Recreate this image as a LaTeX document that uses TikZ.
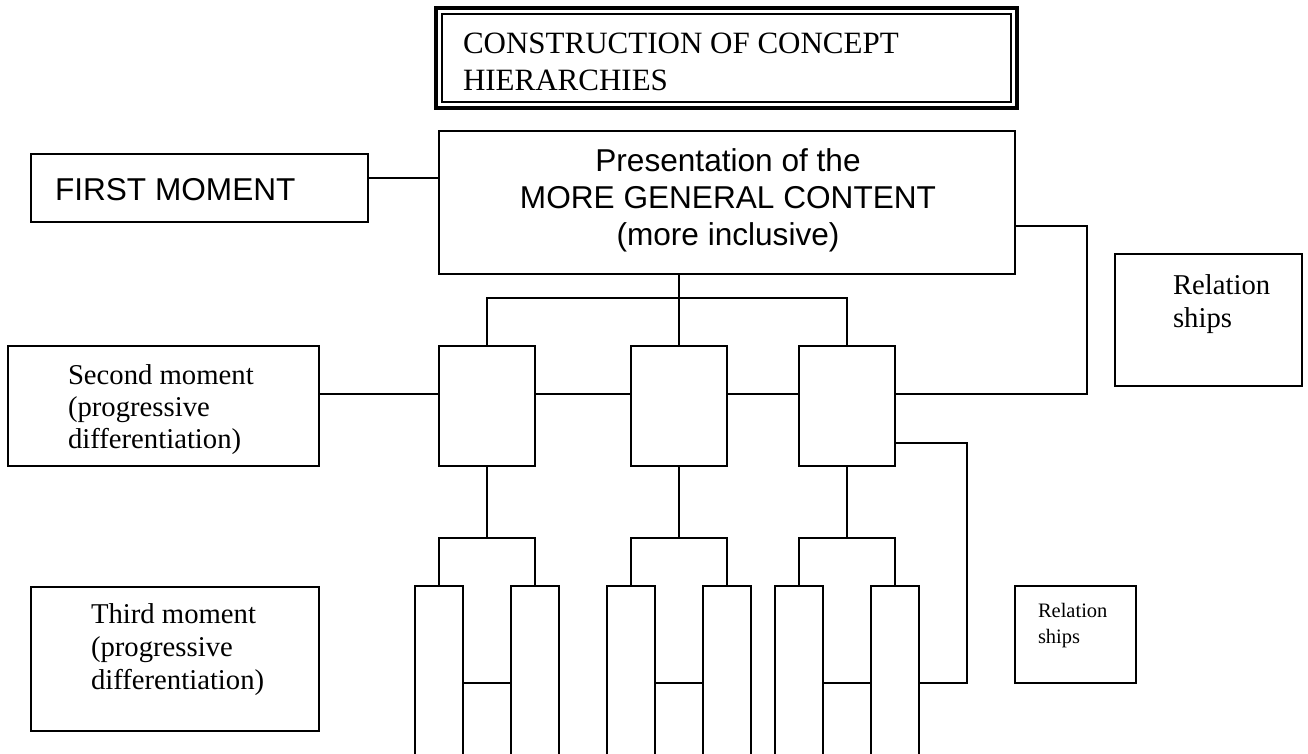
\documentclass[tikz,border=0pt]{standalone}
\usepackage{fontspec}
\setmainfont{Liberation Serif}
\newfontfamily\arialf{Liberation Sans}
\tikzset{
  bx/.style={draw, inner sep=0pt, outer sep=0pt},
  leafbox/.style={draw, inner sep=0pt, outer sep=0pt, minimum width=48pt, minimum height=220pt},
  midbox/.style={draw, inner sep=0pt, outer sep=0pt, minimum width=96pt, minimum height=120pt},
  lbl/.style={inner sep=0pt, outer sep=0pt, anchor=base west},
  clbl/.style={inner sep=0pt, outer sep=0pt, anchor=base},
  serifbig/.style={font=\fontsize{31}{37}\selectfont},
  serifmid/.style={font=\fontsize{28.7}{33}\selectfont},
  serifsmall/.style={font=\fontsize{20.5}{24}\selectfont},
  sansbig/.style={font=\arialf\fontsize{31.6}{37}\selectfont},
}
\begin{document}
\begin{tikzpicture}[x=1pt,y=-1pt,line width=1.2pt]
\clip (0,0) rectangle (1308,753);
\fill[white] (0,0) rectangle (1308,753);
% title
\node[bx, line width=4pt, minimum width=581pt, minimum height=100pt] (title) at (726.5,58) {};
\draw[line width=1.3pt] ([shift={(6pt,-6pt)}]title.north west) rectangle ([shift={(-6pt,6pt)}]title.south east);
\node[lbl, serifbig] (tl1) at (463,53) {CONSTRUCTION OF CONCEPT};
\node[lbl, serifbig] (tl2) at (463,90) {HIERARCHIES};
% first moment
\node[bx, minimum width=337pt, minimum height=68pt] (first) at (199.5,188) {};
\node[lbl, sansbig] (fl) at (55,200) {FIRST MOMENT};
% main box
\node[bx, minimum width=576pt, minimum height=143pt] (main) at (727,202.5) {};
\node[clbl, sansbig] (ml1) at (728,171) {Presentation of the};
\node[clbl, sansbig] (ml2) at (728,208) {MORE GENERAL CONTENT};
\node[clbl, sansbig] (ml3) at (728,245) {(more inclusive)};
% relation ships 1
\node[bx, minimum width=187pt, minimum height=132pt] (rel1) at (1208.5,320) {};
\node[lbl, serifmid] (r1a) at (1173,294) {Relation};
\node[lbl, serifmid] (r1b) at (1173,327) {ships};
% second moment
\node[bx, minimum width=311pt, minimum height=120pt] (second) at (163.5,406) {};
\node[lbl, serifmid] (s1) at (68,384) {Second moment};
\node[lbl, serifmid] (s2) at (68,416) {(progressive};
\node[lbl, serifmid] (s3) at (68,448) {differentiation)};
% level-2 boxes
\node[midbox] (A) at (487,406) {};
\node[midbox] (B) at (679,406) {};
\node[midbox] (C) at (847,406) {};
% third moment
\node[bx, minimum width=288pt, minimum height=144pt] (third) at (175,659) {};
\node[lbl, serifmid] (th1) at (91,623) {Third moment};
\node[lbl, serifmid] (th2) at (91,656) {(progressive};
\node[lbl, serifmid] (th3) at (91,689) {differentiation)};
% relation ships 2
\node[bx, minimum width=121pt, minimum height=97pt] (rel2) at (1075.5,634.5) {};
\node[lbl, serifsmall] (r2a) at (1038,617) {Relation};
\node[lbl, serifsmall] (r2b) at (1038,643) {ships};
% leaves
\node[leafbox] (L1) at (439,696) {};
\node[leafbox] (L2) at (535,696) {};
\node[leafbox] (L3) at (631,696) {};
\node[leafbox] (L4) at (727,696) {};
\node[leafbox] (L5) at (799,696) {};
\node[leafbox] (L6) at (895,696) {};
% connectors
\draw (first.east |- 0,178) -- (main.west |- 0,178);
\draw (main.south -| B.north) -- (B.north);
\draw (A.north) -- (A.north |- 0,298) -- (C.north |- 0,298) -- (C.north);
\draw (second.east |- 0,394) -- (A.west |- 0,394);
\draw (A.east |- 0,394) -- (B.west |- 0,394);
\draw (B.east |- 0,394) -- (C.west |- 0,394);
\draw (C.east |- 0,394) -- (1087,394) -- (1087,226) -- (main.east |- 0,226);
\draw (C.east |- 0,443) -- (967,443) -- (967,683) -- (L6.east |- 0,683);
\foreach \p/\l/\r in {A/L1/L2, B/L3/L4, C/L5/L6}{
  \draw (\p.south) -- (\p.south |- 0,538);
  \draw (\l.north) -- (\l.north |- 0,538) -- (\r.north |- 0,538) -- (\r.north);
  \draw (\l.east |- 0,683) -- (\r.west |- 0,683);
}
\end{tikzpicture}
\end{document}
